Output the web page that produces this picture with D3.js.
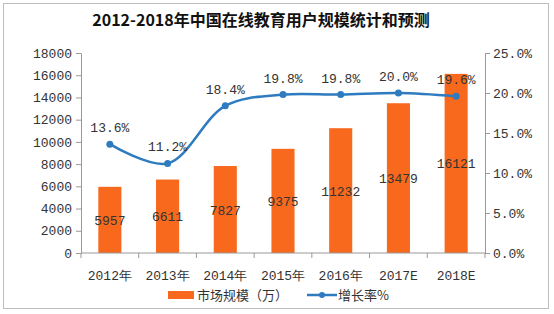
<!DOCTYPE html>
<html>
<head>
<meta charset="utf-8">
<script src="https://cdn.jsdelivr.net/npm/d3@7"></script>
<style>
  body { margin: 0; background: #fff; }
</style>
</head>
<body>
<div id="chart"></div>
<script>
// data
const years = ["2012年", "2013年", "2014年", "2015年", "2016年", "2017E", "2018E"];
const users = [5957, 6611, 7827, 9375, 11232, 13479, 16121];
const growth = [13.6, 11.2, 18.4, 19.8, 19.8, 20.0, 19.6];
const leftTicks = [0, 2000, 4000, 6000, 8000, 10000, 12000, 14000, 16000, 18000];
const rightTicks = [0, 5, 10, 15, 20, 25];

const width = 554;
const height = 314;
const margin = { top: 53, right: 69, bottom: 61, left: 81 };

const numFont = "'Liberation Mono', 'DejaVu Sans Mono', monospace";
const cjkFont = "'Noto Sans CJK SC', sans-serif";
const barColor = "#f8691e";
const lineColor = "#2e7bbf";

const svg = d3.select("#chart")
  .append("svg")
  .attr("width", width)
  .attr("height", height)
  .attr("viewBox", [0, 0, width, height]);

// outer frame
svg.append("rect")
  .attr("x", 3.5).attr("y", 3.5)
  .attr("width", 545).attr("height", 305)
  .attr("fill", "none")
  .attr("stroke", "#bdbdbd");

// title
svg.append("text")
  .attr("x", 261)
  .attr("y", 26)
  .attr("text-anchor", "middle")
  .attr("font-family", cjkFont)
  .attr("font-weight", "bold")
  .attr("font-size", 16)
  .attr("fill", "#111")
  .text("2012-2018年中国在线教育用户规模统计和预测");

const x = d3.scaleBand()
  .domain(years)
  .range([margin.left, width - margin.right]);

const y = d3.scaleLinear()
  .domain([0, 18000])
  .range([height - margin.bottom, margin.top]);

const y2 = d3.scaleLinear()
  .domain([0, 25])
  .range([height - margin.bottom, margin.top]);

// bars
const barW = x.bandwidth() * 0.4;
svg.append("g")
  .attr("fill", barColor)
  .selectAll("rect")
  .data(users)
  .join("rect")
    .attr("x", (d, i) => x(years[i]) + (x.bandwidth() - barW) / 2)
    .attr("y", d => y(d))
    .attr("width", barW)
    .attr("height", d => y(0) - y(d));

// bar labels, centred in the bar
svg.append("g")
  .attr("font-family", numFont)
  .attr("font-size", 13)
  .attr("fill", "#333")
  .attr("text-anchor", "middle")
  .selectAll("text")
  .data(users)
  .join("text")
    .attr("x", (d, i) => x(years[i]) + x.bandwidth() / 2)
    .attr("y", d => (y(d) + y(0)) / 2 + 5)
    .text(d => d);

// axes
const styleAxis = g => {
  g.select(".domain").attr("stroke", "#999");
  g.selectAll(".tick line").attr("stroke", "#999");
  g.selectAll(".tick text")
    .attr("font-family", numFont)
    .attr("font-size", 13)
    .attr("fill", "#333");
};

svg.append("g")
  .attr("transform", `translate(${margin.left}, 0)`)
  .call(d3.axisLeft(y).tickValues(leftTicks).tickSize(5).tickPadding(4).tickSizeOuter(0)
    .tickFormat(d3.format("d")))
  .call(styleAxis);

svg.append("g")
  .attr("transform", `translate(${width - margin.right}, 0)`)
  .call(d3.axisRight(y2).tickValues(rightTicks).tickSize(5).tickPadding(3).tickSizeOuter(0)
    .tickFormat(d => d.toFixed(1) + "%"))
  .call(styleAxis);

// x axis: ticks on category boundaries
const xAxis = svg.append("g")
  .attr("transform", `translate(0, ${height - margin.bottom})`);
xAxis.append("line")
  .attr("x1", margin.left).attr("x2", width - margin.right)
  .attr("stroke", "#999");
xAxis.selectAll("line.tk")
  .data(d3.range(years.length + 1))
  .join("line")
    .attr("class", "tk")
    .attr("x1", i => margin.left + i * x.step())
    .attr("x2", i => margin.left + i * x.step())
    .attr("y2", 5)
    .attr("stroke", "#999");
xAxis.selectAll("text")
  .data(years)
  .join("text")
    .attr("x", d => x(d) + x.bandwidth() / 2)
    .attr("y", 27)
    .attr("text-anchor", "middle")
    .attr("font-family", numFont)
    .attr("font-size", 13)
    .attr("fill", "#333")
    .text(d => d);

// growth line
const line = d3.line()
  .x((d, i) => x(years[i]) + x.bandwidth() / 2)
  .y(d => y2(d))
  .curve(d3.curveCatmullRom.alpha(0.5));

svg.append("path")
  .datum(growth)
  .attr("fill", "none")
  .attr("stroke", lineColor)
  .attr("stroke-width", 2.5)
  .attr("d", line);

svg.append("g")
  .attr("fill", lineColor)
  .selectAll("circle")
  .data(growth)
  .join("circle")
    .attr("cx", (d, i) => x(years[i]) + x.bandwidth() / 2)
    .attr("cy", d => y2(d))
    .attr("r", 3.5);

svg.append("g")
  .attr("font-family", numFont)
  .attr("font-size", 13)
  .attr("fill", "#333")
  .attr("text-anchor", "middle")
  .selectAll("text")
  .data(growth)
  .join("text")
    .attr("x", (d, i) => x(years[i]) + x.bandwidth() / 2)
    .attr("y", d => y2(d) - 12)
    .text(d => d.toFixed(1) + "%");

// legend
const legend = svg.append("g").attr("transform", "translate(0, 295)");
legend.append("rect")
  .attr("x", 168).attr("y", -4)
  .attr("width", 26).attr("height", 8)
  .attr("fill", barColor);
legend.append("text")
  .attr("x", 197).attr("y", 5)
  .attr("font-family", cjkFont)
  .attr("font-size", 13)
  .attr("fill", "#333")
  .text("市场规模（万）");
legend.append("line")
  .attr("x1", 307).attr("x2", 337)
  .attr("stroke", lineColor)
  .attr("stroke-width", 2.5);
legend.append("circle")
  .attr("cx", 322).attr("r", 3)
  .attr("fill", lineColor);
legend.append("text")
  .attr("x", 338).attr("y", 5)
  .attr("font-family", cjkFont)
  .attr("font-size", 13)
  .attr("fill", "#333")
  .text("增长率%");
</script>
</body>
</html>
